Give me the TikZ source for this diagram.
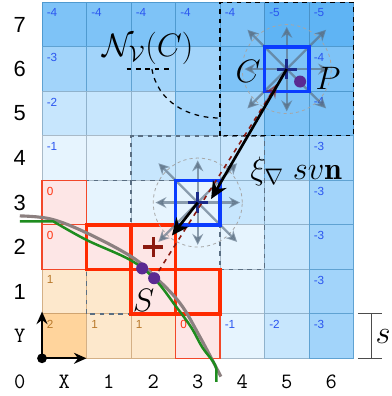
\documentclass[tikz,border=0pt]{standalone}
\usepackage{amsmath,amssymb}
\usepackage{fontspec}
\setsansfont{Liberation Sans}
\usetikzlibrary{arrows.meta,calc}
\definecolor{c0}{HTML}{5FB4F4}\definecolor{b0}{HTML}{4A92C8}
\definecolor{c1}{HTML}{7EC3F7}\definecolor{b1}{HTML}{4F9AD0}
\definecolor{c2}{HTML}{A2D4FA}\definecolor{b2}{HTML}{5FA2D2}
\definecolor{c3}{HTML}{C7E6FD}\definecolor{b3}{HTML}{8FB2CC}
\definecolor{c4}{HTML}{E6F4FE}\definecolor{b4}{HTML}{A9BAC8}
\definecolor{c5}{HTML}{FDE6E6}\definecolor{b5}{HTML}{F2482A}
\definecolor{c6}{HTML}{FDE8CC}\definecolor{b6}{HTML}{D4B086}
\definecolor{c7}{HTML}{FFD49C}\definecolor{b7}{HTML}{D0A470}
\definecolor{t0}{HTML}{2A55F0}\colorlet{t1}{t0}\colorlet{t2}{t0}\colorlet{t3}{t0}\colorlet{t4}{t0}
\definecolor{t5}{HTML}{FF3311}\definecolor{t6}{HTML}{B8782A}\colorlet{t7}{t6}
\definecolor{hot}{HTML}{FF2A00}
\definecolor{boxblue}{HTML}{0A3CFF}
\definecolor{navy}{HTML}{1A2A8A}
\definecolor{darkred}{HTML}{8B1A10}
\definecolor{curvegreen}{HTML}{1E8C1E}
\definecolor{curvegray}{HTML}{8C8080}
\definecolor{dotpurple}{HTML}{5A2A92}
\definecolor{raycol}{HTML}{5A6E82}
\begin{document}
\begin{tikzpicture}[>=Stealth,
 cell/.style={line width=0.6pt},
 lbl/.style={anchor=north west,inner sep=0pt,font=\sffamily\fontsize{7.5}{8}\selectfont},
 zero/.style={draw=b5,line width=0.7pt},
 thick red/.style={draw=hot,line width=2.2pt},
 gdash/.style={draw=raycol,dashed,line width=1pt},
 kdash/.style={draw=black,dashed,line width=0.8pt},
 ring/.style={draw=gray!70,dash pattern=on 2pt off 2pt,line width=0.5pt},
 ray/.style={draw=raycol,opacity=0.65,line width=1.5pt,-{Stealth[length=7pt,width=7pt]}},
 bluebox/.style={draw=boxblue,line width=2.3pt},
 cross/.style={line width=2pt},
 big/.style={font=\fontsize{20}{24}\selectfont},
 ax/.style={font=\sffamily\fontsize{14}{16}\selectfont},
 tt/.style={font=\ttfamily\fontsize{14}{16}\selectfont},
 pt/.style={fill=dotpurple}]
\useasboundingbox (-0.944,-0.847) rectangle (7.843,8.052);
\foreach \r/\vals in {7/{-4,-4,-4,-4,-4,-5,-5},6/{-3,-3,-3,-3,-4,-4,-4},5/{-2,-2,-2,-3,-3,-4,-4},
  4/{-1,-1,-2,-2,-2,-3,-3},3/{0,-1,-1,-1,-2,-2,-3},2/{0,0,0,-1,-1,-2,-3},1/{1,1,0,0,-1,-2,-3},0/{2,1,1,0,-1,-2,-3}}
  \foreach \v [count=\c from 0] in \vals {
    \pgfmathtruncatemacro\k{\v+5}
    \draw[cell,fill=c\k,draw=b\k] (\c,\r) rectangle ++(1,1);
    \pgfmathtruncatemacro\edge{(\c==0)||(\c==6)||(\r==0)||(\r==7)}
    \ifnum\edge=1 \node[lbl,text=t\k] (v\c-\r) at (\c+0.1,\r+0.86) {\v}; \fi
  }
\draw[gdash] (1,1) rectangle (4,4);
\draw[gdash] (2,2) rectangle (5,5);
\foreach \c/\r in {0/3,0/2,3/0} \draw[zero] (\c,\r) rectangle ++(1,1);
\foreach \c/\r in {1/2,2/2,2/1,3/1} \draw[thick red] (\c,\r) rectangle ++(1,1);
\draw[kdash] (4,5) rectangle (7,8);

\coordinate (C) at (5.5,6.5);
\coordinate (Q) at (3.5,3.5);
\coordinate (R) at (2.5,2.5);
\coordinate (S1) at (2.25,2.02);
\coordinate (S2) at (2.52,1.80);
\coordinate (P) at (5.8,6.22);
\coordinate (T1) at (3.80,3.58);
\coordinate (T2) at (2.92,2.76);

\draw[curvegray,line width=2pt] plot[smooth,tension=0.6] coordinates {(-0.5,3.2) (0.2,3.13) (1.0,2.82) (2.0,2.29) (2.5,1.87) (3.1,1.24) (3.55,0.48) (4.02,-0.41)};
\draw[curvegreen,line width=1.6pt] (-0.5,3.08) -- (0.25,3.08) plot[smooth,tension=0.6] coordinates {(0.25,3.08) (1.0,2.66) (2.0,2.2) (2.55,1.76) (3.0,1.18) (3.35,0.7) (3.6,0.25) (3.85,-0.08) (3.92,-0.25)} -- (3.92,-0.53);

\foreach \p in {C,Q} {
  \draw[ring] (\p) circle (1);
  \foreach \a in {0,45,...,315} {
    \pgfmathsetmacro\l{mod(\a,90)==0 ? 0.95 : 1.25}
    \draw[ray] (\p) -- ++(\a:\l);
  }
}
\draw[bluebox] (5,6) rectangle (6,7);
\draw[bluebox] (3,3) rectangle (4,4);
\foreach \p in {C,Q} \draw[cross,navy] ($(\p)+(-0.23,0)$) -- ($(\p)+(0.23,0)$) ($(\p)+(0,-0.23)$) -- ($(\p)+(0,0.23)$);
\draw[cross,darkred] ($(R)+(-0.22,0)$) -- ($(R)+(0.22,0)$) ($(R)+(0,-0.22)$) -- ($(R)+(0,0.22)$);

\draw[darkred,opacity=0.5,line width=1pt,-{Stealth[length=9pt,width=8pt]}] ($(C)!0.17!(S2)$) -- ($(C)!0.07!(S2)$);
\draw[darkred,dashed,line width=1pt] (C) -- (S2);
\draw[line width=1.7pt,-{Stealth[length=11pt,width=10pt]}] (C) -- (T1);
\draw[line width=1.7pt,-{Stealth[length=11pt,width=10pt]}] (Q) -- (T2);

\fill[pt] (S1) circle (0.135);
\fill[pt] (S2) circle (0.135);
\fill[pt] (P) circle (0.135);

\node[big] (lc) at (4.63,6.44) {$C$};
\node[big] (lp) at (6.43,6.30) {$P$};
\node[big] (ls) at (2.28,1.31) {$S$};
\node[big,inner sep=0pt] (lx) at (5.71,4.19) {$\xi_\nabla\; s v\mathbf{n}$};
\node[big] (nv) at (2.38,6.97) {$\mathcal{N}_{\mathcal{V}}(C)$};
\coordinate (b1) at (1.9,6.5);
\coordinate (b2) at (2.85,6.5);
\coordinate (b3) at (2.47,6.5);
\coordinate (nb) at (4,5.4);
\draw[kdash] (b1) -- (b2);
\draw[kdash] (b3) to[out=-80,in=180] (nb);

\coordinate (o) at (0,0);
\draw[line width=1.5pt,-{Stealth[length=8pt,width=7pt]}] (o) -- (1,0);
\draw[line width=1.5pt,-{Stealth[length=8pt,width=7pt]}] (o) -- (0,1.05);
\fill (o) circle (0.11);

\foreach \r in {1,...,7} \node[ax] (row\r) at (-0.5,\r+0.5) {\r};
\node[tt] (rowy) at (-0.5,0.5) {Y};
\node[tt] (col0) at (-0.5,-0.53) {0};
\node[tt] (colx) at (0.5,-0.53) {X};
\foreach \c in {1,...,6} \node[tt] (col\c) at (\c+0.5,-0.53) {\c};

\coordinate (s0) at (7.41,0);
\coordinate (s1) at (7.41,1);
\draw[black!70,line width=0.8pt] (s0) -- (s1) (7.1,0) -- (7.63,0) (7.1,1) -- (7.63,1);
\node[big,anchor=east,inner sep=0pt] (ls2) at (7.84,0.5) {$s$};
\end{tikzpicture}
\end{document}
